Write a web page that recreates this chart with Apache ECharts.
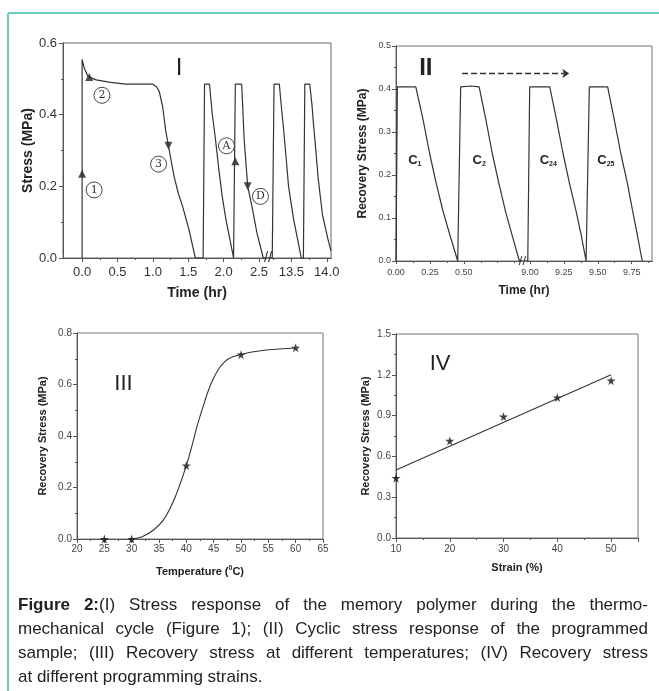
<!DOCTYPE html>
<html><head><meta charset="utf-8">
<script src="https://cdn.jsdelivr.net/npm/echarts@6.0.0/dist/echarts.min.js"></script>
<style>
html,body{margin:0;padding:0;background:#fff;}
#chart{width:659px;height:691px;position:absolute;left:0;top:0;}
#cap{position:absolute;left:18px;top:593px;width:630px;font-family:'Liberation Sans',Arial,sans-serif;font-size:17px;line-height:24px;color:#222;}
#cap div{text-align:justify;text-align-last:justify;white-space:nowrap;}
#cap div.last{text-align:left;text-align-last:left;}
</style></head><body>
<div id="chart"></div>
<div id="cap">
<div><b>Figure 2:</b>(I) Stress response of the memory polymer during the thermo-</div>
<div>mechanical cycle (Figure 1); (II) Cyclic stress response of the programmed</div>
<div>sample; (III) Recovery stress at different temperatures; (IV) Recovery stress</div>
<div class="last">at different programming strains.</div>
</div>
<script>
// ---------- Panel I : stress vs time ----------
const curveI = [[0,0],[0,0.554],[0.03,0.53],[0.084,0.506],[0.2,0.497],[0.4,0.49],[0.62,0.485],[1.0,0.485],[1.05,0.478],[1.09,0.465],[1.14,0.42],[1.18,0.357],[1.22,0.313],[1.26,0.27],[1.30,0.227],[1.36,0.18],[1.42,0.144],[1.51,0.079],[1.60,0],
  [1.71,0],[1.73,0.485],[1.80,0.485],[1.84,0.40],[1.88,0.339],[1.93,0.25],[1.98,0.172],[2.03,0.11],[2.07,0.07],[2.14,0],
  [2.16,0],[2.165,0.485],[2.255,0.485],[2.29,0.33],[2.34,0.2],[2.40,0.144],[2.47,0.07],[2.56,0],
  [13.23,0],[13.255,0.485],[13.33,0.485],[13.36,0.42],[13.39,0.36],[13.43,0.27],[13.46,0.2],[13.53,0.11],[13.60,0.04],[13.64,0],
  [13.67,0],[13.69,0.485],[13.76,0.485],[13.79,0.43],[13.81,0.38],[13.85,0.29],[13.88,0.22],[13.94,0.12],[14.02,0.05],[14.06,0.02]];
const triUpI = [[0,0.235],[0.1,0.505],[2.165,0.27]];
const triDownI = [[1.22,0.313],[2.34,0.2]];
const ticksI = [0,0.5,1.0,1.5,2.0,2.5,13.5,14.0];
const minorTicksI = [0.25,0.75,1.25,1.75,2.25,13.25,13.75];
const notesI = ['1','2','3','A','D'];

// ---------- Panel II : cyclic recovery stress ----------
const curveII = [[0,0],[0.01,0.405],[0.146,0.405],[0.2,0.328],[0.248,0.25],[0.297,0.18],[0.345,0.118],[0.394,0.064],[0.455,0],
  [0.467,0],[0.477,0.405],[0.55,0.407],[0.613,0.405],[0.662,0.33],[0.71,0.25],[0.759,0.18],[0.808,0.115],[0.856,0.06],[0.91,0],
  [8.984,0],[8.998,0.405],[9.146,0.405],[9.195,0.33],[9.244,0.25],[9.292,0.18],[9.341,0.115],[9.378,0.06],[9.414,0],
  [9.421,0],[9.438,0.405],[9.573,0.405],[9.621,0.33],[9.67,0.25],[9.719,0.18],[9.755,0.12],[9.792,0.06],[9.828,0]];
const ticksII = [0,0.25,0.5,9.0,9.25,9.5,9.75];
const minorTicksII = [0.125,0.375,0.625,0.75,0.875,9.125,9.375,9.625,9.875];
const cyclesII = ['1','2','24','25'];

// ---------- Panel III : recovery stress vs temperature ----------
const tempIII = [25,30,40,50,60];
const stressIII = [0,0,0.285,0.716,0.743];
const fitIII = [[30,0],[32,0.01],[34,0.035],[36,0.08],[38,0.165],[40,0.285],[41,0.36],[42,0.44],[43,0.51],[44,0.575],[45,0.625],[46,0.663],[47,0.688],[48,0.703],[50,0.716],[52,0.726],[55,0.735],[60,0.742]];

// ---------- Panel IV : recovery stress vs strain ----------
const strainIV = [10,20,30,40,50];
const stressIV = [0.44,0.714,0.893,1.033,1.157];
const fitIV = [[10,0.50],[50,1.20]];

const FONT = "'Liberation Sans', Arial, sans-serif";
const NARROW = "'Liberation Sans Narrow', 'Liberation Sans', Arial, sans-serif";
const STAR = 'path://M50,0 L61,35 L98,35 L68,57 L79,91 L50,70 L21,91 L32,57 L2,35 L39,35 Z';
const LINE = '#333';
const AX = '#555';

function baseAxis(extra){
  return Object.assign({
    type:'value',
    axisLine:{show:true,onZero:false,lineStyle:{color:AX,width:1}},
    axisTick:{show:true,inside:false,length:4,lineStyle:{color:AX}},
    minorTick:{show:true,splitNumber:2,length:2,lineStyle:{color:AX}},
    splitLine:{show:false},
    minorSplitLine:{show:false},
    nameLocation:'middle'
  }, extra);
}
function minorAxis(grid, min, max, brk, vals){
  return {type:'value',gridIndex:grid,position:'bottom',min:min,max:max,breaks:brk,breakArea:{show:false},
    axisLine:{show:false},axisLabel:{show:false},splitLine:{show:false},
    axisTick:{show:true,customValues:vals,length:2,lineStyle:{color:AX}}};
}

const circleNote = (txt, c) => ({coord:c, value:txt, symbol:'circle', symbolSize:16,
  itemStyle:{color:'rgba(255,255,255,0)',borderColor:'#444',borderWidth:1},
  label:{show:true,position:'inside',formatter:txt,color:'#333',fontSize:11,fontFamily:'DejaVu Serif, serif'}});
const textNote = (txt, c, size, extra) => ({coord:c, symbol:'circle', symbolSize:0,
  label:Object.assign({show:true,position:'inside',formatter:txt,color:'#222',fontSize:size,fontFamily:FONT}, extra||{})});

const notePos = [[0.17,0.19],[0.28,0.454],[1.08,0.262],[2.04,0.313],[2.52,0.172]];
const cPos = [[0.139,0.234],[0.613,0.234],[9.135,0.234],[9.56,0.234]];
const brkI = [{start:2.6,end:13.2,gap:'1.5%'}];
const brkII = [{start:0.925,end:8.975,gap:'2%'}];

const option = {
  animation:false,
  backgroundColor:'#fff',
  graphic:[
    {type:'line',shape:{x1:8,y1:13,x2:659,y2:13},style:{stroke:'#6fcdbd',lineWidth:2}},
    {type:'line',shape:{x1:8,y1:13,x2:8,y2:691},style:{stroke:'#6fcdbd',lineWidth:2}}
  ],
  grid:[
    {left:63,top:43,width:268,height:215,show:true,borderColor:'#666',borderWidth:1},
    {left:396,top:46,width:256,height:215,show:true,borderColor:'#777',borderWidth:1},
    {left:77,top:333,width:246,height:206,show:true,borderColor:'#777',borderWidth:1},
    {left:396,top:334,width:242,height:204,show:true,borderColor:'#777',borderWidth:1}
  ],
  xAxis:[
    baseAxis({gridIndex:0,min:-0.27,max:14.06,
      breaks:brkI,
      breakArea:{show:false},
      axisLabel:{customValues:ticksI,formatter:v=>v.toFixed(1),color:'#333',fontSize:13,fontFamily:FONT,margin:8},
      axisTick:{show:true,customValues:ticksI,length:4,lineStyle:{color:AX}},
      minorTick:{show:false},
      name:'Time (hr)',nameGap:28,nameTextStyle:{fontWeight:'bold',fontSize:14,fontFamily:FONT,color:'#222'}}),
    baseAxis({gridIndex:1,min:0,max:9.9,
      breaks:brkII,
      breakArea:{show:false},
      axisLabel:{customValues:ticksII,formatter:v=>v.toFixed(2),color:'#444',fontSize:9,fontFamily:FONT,margin:7},
      axisTick:{show:true,customValues:ticksII,length:3,lineStyle:{color:AX}},
      minorTick:{show:false},
      name:'Time (hr)',nameGap:24,nameTextStyle:{fontWeight:'bold',fontSize:12,fontFamily:NARROW,color:'#222'}}),
    baseAxis({gridIndex:2,min:20,max:65,interval:5,
      axisLabel:{color:'#444',fontSize:10,fontFamily:NARROW,margin:5},
      name:'Temperature ({s|0}C)',nameGap:26,
      nameTextStyle:{fontWeight:'bold',fontSize:11,fontFamily:NARROW,color:'#222',
        rich:{s:{fontSize:7,fontWeight:'bold',fontFamily:NARROW,padding:[0,0,7,0]}}}}),
    baseAxis({gridIndex:3,min:10,max:55,interval:10,
      axisLabel:{color:'#444',fontSize:10,fontFamily:NARROW,margin:6,showMaxLabel:false},
      name:'Strain (%)',nameGap:24,nameTextStyle:{fontWeight:'bold',fontSize:11,fontFamily:NARROW,color:'#222'}}),
    minorAxis(0,-0.27,14.06,brkI,minorTicksI),
    minorAxis(1,0,9.9,brkII,minorTicksII)
  ],
  yAxis:[
    baseAxis({gridIndex:0,min:0,max:0.6,interval:0.2,
      axisLabel:{formatter:v=>v.toFixed(1),color:'#333',fontSize:13,fontFamily:FONT,margin:6},
      name:'Stress (MPa)',nameGap:28,nameTextStyle:{fontWeight:'bold',fontSize:14,fontFamily:FONT,color:'#222'}}),
    baseAxis({gridIndex:1,min:0,max:0.5,interval:0.1,
      axisLabel:{formatter:v=>v.toFixed(1),color:'#444',fontSize:9,fontFamily:FONT,margin:5},
      name:'Recovery Stress (MPa)',nameGap:27,nameTextStyle:{fontWeight:'bold',fontSize:12,fontFamily:NARROW,color:'#222'}}),
    baseAxis({gridIndex:2,min:0,max:0.8,interval:0.2,
      axisLabel:{formatter:v=>v.toFixed(1),color:'#444',fontSize:10,fontFamily:NARROW,margin:5},
      name:'Recovery Stress (MPa)',nameGap:29,nameTextStyle:{fontWeight:'bold',fontSize:11,fontFamily:NARROW,color:'#222'}}),
    baseAxis({gridIndex:3,min:0,max:1.5,interval:0.3,
      axisLabel:{formatter:v=>v.toFixed(1),color:'#444',fontSize:10,fontFamily:NARROW,margin:5},
      name:'Recovery Stress (MPa)',nameGap:25,nameTextStyle:{fontWeight:'bold',fontSize:11,fontFamily:NARROW,color:'#222'}})
  ],
  series:[
    {type:'line',xAxisIndex:0,yAxisIndex:0,data:curveI,showSymbol:false,symbol:'none',
      lineStyle:{color:LINE,width:1.2},
      markPoint:{silent:true,data:[
        ...notesI.map((t,i)=>circleNote(t,notePos[i])),
        textNote('I',[1.37,0.53],24,{fontWeight:'normal'}),
        textNote('//',[2.6,0],15,{color:'#333',offset:[2,0]})
      ]}},
    {type:'scatter',xAxisIndex:0,yAxisIndex:0,data:triUpI,symbol:'triangle',symbolSize:8,itemStyle:{color:'#222'}},
    {type:'scatter',xAxisIndex:0,yAxisIndex:0,data:triDownI,symbol:'triangle',symbolRotate:180,symbolSize:8,itemStyle:{color:'#222'}},
    {type:'line',xAxisIndex:1,yAxisIndex:1,data:curveII,showSymbol:false,symbol:'none',
      lineStyle:{color:LINE,width:1.2},
      markPoint:{silent:true,data:[
        ...cyclesII.map((t,i)=>textNote('{c|C}{s|'+t+'}',cPos[i],13,{rich:{c:{fontSize:13,fontWeight:'bold',fontFamily:FONT,color:'#222'},s:{fontSize:7,fontWeight:'bold',fontFamily:FONT,color:'#222',padding:[7,0,0,0]}}})),
        textNote('II',[0.22,0.448],24,{fontWeight:'bold',fontFamily:NARROW}),
        textNote('//',[0.925,0],13,{color:'#333',offset:[1,0]})
      ]},
      markLine:{silent:true,symbol:['none','arrow'],symbolSize:[7,7],
        lineStyle:{color:'#333',type:[6,3],width:1.3},label:{show:false},
        data:[[{coord:[0.487,0.436]},{coord:[9.29,0.436]}]]}},
    {type:'line',xAxisIndex:2,yAxisIndex:2,data:fitIII,smooth:0.3,showSymbol:false,symbol:'none',lineStyle:{color:LINE,width:1.1},
      markPoint:{silent:true,data:[textNote('III',[28.5,0.604],22)]}},
    {type:'scatter',xAxisIndex:2,yAxisIndex:2,data:tempIII.map((x,i)=>[x,stressIII[i]]),symbol:STAR,symbolSize:9,itemStyle:{color:'#111'}},
    {type:'line',xAxisIndex:3,yAxisIndex:3,data:fitIV,showSymbol:false,symbol:'none',lineStyle:{color:LINE,width:1.1},
      markPoint:{silent:true,data:[textNote('IV',[18.2,1.28],22)]}},
    {type:'scatter',xAxisIndex:3,yAxisIndex:3,data:strainIV.map((x,i)=>[x,stressIV[i]]),symbol:STAR,symbolSize:9,itemStyle:{color:'#111'}}
  ]
};
const chart = echarts.init(document.getElementById('chart'),null,{renderer:'canvas'});
chart.setOption(option);
</script>
</body></html>
